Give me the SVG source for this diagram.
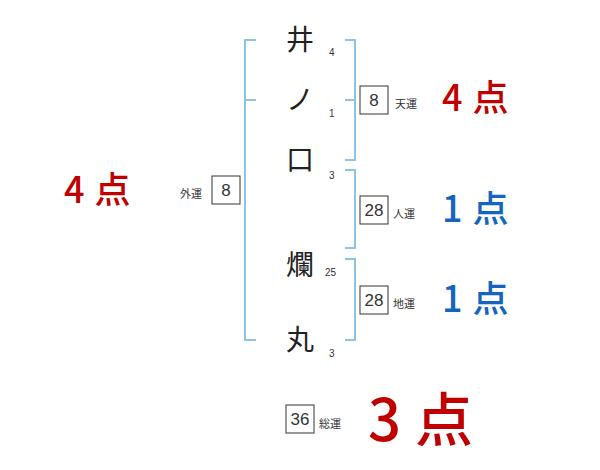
<svg xmlns="http://www.w3.org/2000/svg" width="600" height="470" viewBox="0 0 600 470">
<style>
.br{fill:none;stroke:#8cc4e6;stroke-width:2}
.ch{font-family:"Noto Sans CJK JP",sans-serif;font-size:28px;fill:#222;text-anchor:middle}
.n{font-family:"Liberation Sans",sans-serif;font-size:10px;fill:#333}
.bx{fill:#fff;stroke:#333;stroke-width:1}
.bn{font-family:"Liberation Sans",sans-serif;font-size:17px;fill:#333;text-anchor:middle}
.lb{font-family:"Noto Sans CJK JP",sans-serif;font-size:11px;fill:#333}
.red{font-family:"Noto Sans CJK JP",sans-serif;font-weight:500;fill:#c00000}
.blue{font-family:"Noto Sans CJK JP",sans-serif;font-weight:500;fill:#1464c0}
.s{font-size:36px;letter-spacing:10px}
</style>
<rect width="600" height="470" fill="#fff"/>
<g id="connectors">
<path class="br" d="M256,40 H245 V340 H256 M245,100 H256"/>
<path class="br" d="M345,40 H355 V160 H345 M345,100 H355"/>
<path class="br" d="M345,170 H355 V248 H345"/>
<path class="br" d="M345,259 H355 V340 H345"/>
</g>
<g id="c1"><text class="ch" x="300" y="50">井</text><text class="n" x="329" y="56">4</text></g>
<g id="c2"><text class="ch" x="300" y="110">ノ</text><text class="n" x="329" y="117">1</text></g>
<g id="c3"><text class="ch" x="300" y="170">口</text><text class="n" x="329" y="179">3</text></g>
<g id="c4"><text class="ch" x="300" y="275">爛</text><text class="n" x="325" y="276">25</text></g>
<g id="c5"><text class="ch" x="300" y="350">丸</text><text class="n" x="329" y="357">3</text></g>
<g id="tenun"><rect class="bx" x="360" y="86" width="28" height="28"/><text class="bn" x="374" y="106">8</text><text class="lb" x="395" y="108">天運</text></g>
<g id="jinun"><rect class="bx" x="360" y="196" width="28" height="28"/><text class="bn" x="374" y="216">28</text><text class="lb" x="393" y="218">人運</text></g>
<g id="chiun"><rect class="bx" x="360" y="286" width="28" height="28"/><text class="bn" x="374" y="306">28</text><text class="lb" x="393" y="308">地運</text></g>
<g id="gaiun"><rect class="bx" x="212" y="176" width="28" height="28"/><text class="bn" x="226" y="196">8</text><text class="lb" x="180" y="198">外運</text></g>
<g id="souun"><rect class="bx" x="286" y="405" width="28" height="28"/><text class="bn" x="300" y="425">36</text><text class="lb" x="319" y="428">総運</text></g>
<g id="s-gai"><text class="red s" x="64" y="203">4点</text></g>
<g id="s-ten"><text class="red s" x="442" y="111">4点</text></g>
<g id="s-jin"><text class="blue s" x="442" y="222">1点</text></g>
<g id="s-chi"><text class="blue s" x="442" y="312">1点</text></g>
<g id="s-sou"><text class="red" x="368" y="441" font-size="58" letter-spacing="14">3点</text></g>
</svg>
